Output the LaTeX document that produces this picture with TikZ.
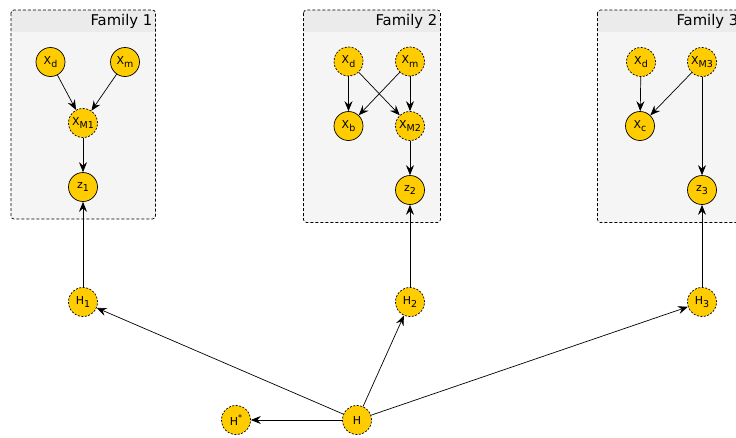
\documentclass[tikz,border=0pt]{standalone}
\usepackage{fontspec}
\setmainfont{DejaVu Sans}
\usetikzlibrary{arrows.meta}
\definecolor{nodeyellow}{HTML}{FFCC00}
\definecolor{boxfill}{HTML}{F5F5F5}
\definecolor{headfill}{HTML}{EBEBEB}
\newcommand{\sbs}[1]{\raisebox{-0.6ex}{\fontsize{9.5}{9.5}\selectfont #1}}
\newcommand{\sps}[1]{\raisebox{0.9ex}{\fontsize{8}{8}\selectfont #1}}
\tikzset{
  var/.style={circle, draw=black, line width=0.7pt, fill=nodeyellow, minimum size=29pt, inner sep=0pt, font=\fontsize{11}{11}\selectfont},
  latent/.style={var, dashed, dash pattern=on 2pt off 1.5pt},
  arr/.style={-{Stealth[length=10pt,width=8pt,inset=3.5pt]}, line width=0.7pt},
  famhead/.style={font=\fontsize{14.8}{14.8}\selectfont, anchor=east, inner sep=0pt},
}
\begin{document}
\begin{tikzpicture}[x=1pt,y=-1pt]
\useasboundingbox (0,0) rectangle (736,437);
% family boxes
\foreach \l/\r/\b in {11/155.5/219, 303.5/440.5/222.5, 597.5/741/222.5}{
  \fill[boxfill, rounded corners=3pt] (\l,10) rectangle (\r,\b);
  \begin{scope}
    \clip[rounded corners=3pt] (\l,10) rectangle (\r,\b);
    \fill[headfill] (\l,10) rectangle (\r,31.5);
  \end{scope}
  \draw[dashed, dash pattern=on 3pt off 2pt, line width=0.7pt, rounded corners=3pt] (\l,10) rectangle (\r,\b);
}
\node[famhead] (f1) at (152.5,21) {Family 1};
\node[famhead] (f2) at (437.5,21) {Family 2};
\node[famhead] (f3) at (738.5,21) {Family 3};
% family 1
\node[var] (a1) at (50.5,62) {X\sbs{d}};
\node[var] (a2) at (125,62) {X\sbs{m}};
\node[latent] (a3) at (83,123) {X\sbs{M1}};
\node[var] (z1) at (83,187) {z\sbs{1}};
% family 2
\node[latent] (b1) at (348.5,61.5) {X\sbs{d}};
\node[latent] (b2) at (410,61.5) {X\sbs{m}};
\node[var] (b3) at (348.5,126) {X\sbs{b}};
\node[latent] (b4) at (410,126) {X\sbs{M2}};
\node[var] (z2) at (410,190) {z\sbs{2}};
% family 3
\node[latent] (c1) at (641,62) {X\sbs{d}};
\node[latent] (c2) at (702,62) {X\sbs{M3}};
\node[var] (c3) at (640,126) {X\sbs{c}};
\node[var] (z3) at (702,190) {z\sbs{3}};
% hidden
\node[latent] (h1) at (83,302) {H\sbs{1}};
\node[latent] (h2) at (410,302) {H\sbs{2}};
\node[latent] (h3) at (702,302) {H\sbs{3}};
\node[latent] (h) at (357,420) {H};
\node[latent] (hs) at (236,420) {H\sps{*}};
% edges
\draw[arr] (a1) -- (a3);
\draw[arr] (a2) -- (a3);
\draw[arr] (a3) -- (z1);
\draw[arr] (b1) -- (b3);
\draw[arr] (b1) -- (b4);
\draw[arr] (b2) -- (b3);
\draw[arr] (b2) -- (b4);
\draw[arr] (b4) -- (z2);
\draw[arr] (c1) -- (c3);
\draw[arr] (c2) -- (c3);
\draw[arr] (c2) -- (z3);
\draw[arr] (h1) -- (z1);
\draw[arr] (h2) -- (z2);
\draw[arr] (h3) -- (z3);
\draw[arr] (h) -- (h1);
\draw[arr] (h) -- (h2);
\draw[arr] (h) -- (h3);
\draw[arr] (h) -- (hs);
\end{tikzpicture}
\end{document}
